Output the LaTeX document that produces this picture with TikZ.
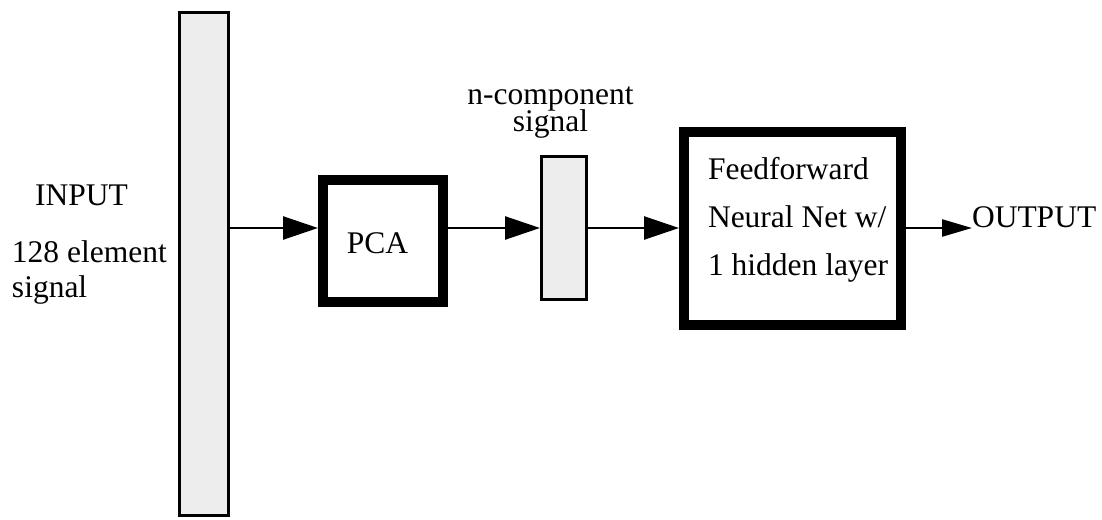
\documentclass[tikz,border=0pt]{standalone}
\usepackage{fontspec}
\setmainfont{Liberation Serif}
\usetikzlibrary{arrows.meta}
\definecolor{barfill}{HTML}{EDEDED}
\tikzset{
  bar/.style={draw=black, line width=3pt, fill=barfill, inner sep=0pt, outer sep=auto},
  blockbox/.style={draw=black, line width=10pt, fill=white, inner sep=0pt, outer sep=auto},
  lbl/.style={inner sep=0pt, outer sep=0pt, font=\fontsize{31.5}{35}\selectfont},
  flow/.style={line width=2.5pt, -{Triangle[length=35pt,width=23pt]}},
  flowsmall/.style={line width=2.5pt, -{Triangle[length=30pt,width=17pt]}},
}
\begin{document}
\begin{tikzpicture}[x=1pt,y=-1pt]
\useasboundingbox (0,0) rectangle (1102,519);
% blocks
\node[bar, minimum width=49pt, minimum height=503pt] (inbar) at (204,264) {};
\node[blockbox, minimum width=120pt, minimum height=122pt] (pca) at (383,241) {};
\node[bar, minimum width=45pt, minimum height=143pt] (cbar) at (564,228) {};
\node[blockbox, minimum width=217pt, minimum height=193pt] (nn) at (792.5,228.5) {};
\coordinate (lev) at (0,228);
\coordinate (outend) at (972,228);
% texts
\node[lbl, anchor=base] (tinput) at (81.5,205) {INPUT};
\node[lbl, anchor=base west] (t128) at (12,262) {128 element};
\node[lbl, anchor=base west] (tsig) at (12,297) {signal};
\node[lbl, anchor=base] (tpca) at (377.5,253) {PCA};
\node[lbl, anchor=base] (tncomp) at (550.5,104) {n-component};
\node[lbl, anchor=base] (tnsig) at (550.5,131) {signal};
\node[lbl, anchor=base west] (tff) at (708,179) {Feedforward};
\node[lbl, anchor=base west] (tnn) at (708,227) {Neural Net w/};
\node[lbl, anchor=base west] (thl) at (708,275) {1 hidden layer};
\node[lbl, anchor=base west] (tout) at (972,227) {OUTPUT};
% connectors
\draw[flow] (inbar.east |- lev) -- (pca.west |- lev);
\draw[flow] (pca.east |- lev) -- (cbar.west |- lev);
\draw[flow] (cbar.east |- lev) -- (nn.west |- lev);
\draw[flowsmall] (nn.east |- lev) -- (outend);
\end{tikzpicture}
\end{document}
